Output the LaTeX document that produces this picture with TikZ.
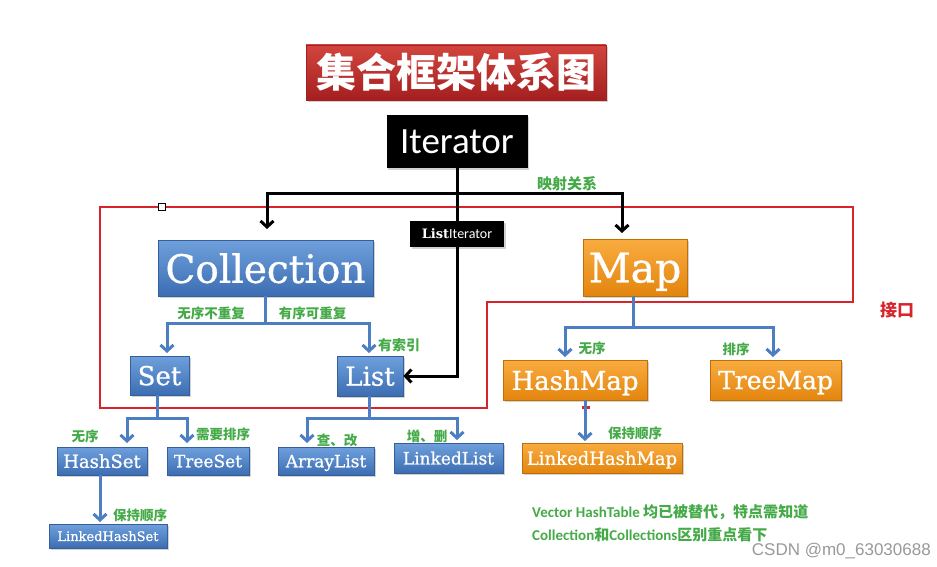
\documentclass[tikz,border=0pt]{standalone}
\usepackage{fontspec}
\setmainfont{DejaVu Serif}
\newfontfamily\boxfont[FakeBold=0.9]{DejaVu Serif}
\newfontfamily\cjk{Noto Sans CJK SC}
\newfontfamily\carl{Carlito}
\newfontfamily\lsans{Liberation Sans}
\usetikzlibrary{arrows.meta,shadows}
\definecolor{bT}{HTML}{6FA0DC}
\definecolor{bB}{HTML}{3C6DB2}
\definecolor{bD}{HTML}{345F9A}
\definecolor{oT}{HTML}{F9AC40}
\definecolor{oB}{HTML}{E3850E}
\definecolor{oD}{HTML}{C06F08}
\definecolor{rT}{HTML}{D2453E}
\definecolor{rB}{HTML}{A41F1F}
\definecolor{conblue}{HTML}{4C7EC3}
\definecolor{lblgreen}{HTML}{45AA48}
\definecolor{frame}{HTML}{D8232A}
\tikzset{
  shad/.style={drop shadow={opacity=0.35,shadow xshift=1.5pt,shadow yshift=-2pt}},
  bluebox/.style={shad,draw=bD,line width=0.8pt,top color=bT,bottom color=bB,text=white,inner sep=0pt,text depth=0pt},
  orangebox/.style={shad,draw=oD,line width=0.8pt,top color=oT,bottom color=oB,text=white,inner sep=0pt,text depth=0pt},
  blackbox/.style={shad,fill=black,text=white,inner sep=0pt},
  redbox/.style={shad,draw=rB,line width=0.8pt,top color=rT,bottom color=rB,text=white,inner sep=0pt},
  fs/.style={font=\boxfont\fontsize{#1}{#1}\selectfont},
  lbl/.style={text=lblgreen,font=\cjk\bfseries\fontsize{#1}{#1}\selectfont,inner sep=0pt},
  bl/.style={draw=conblue,line width=3pt},
  blarrow/.style={bl,-{Straight Barb[length=6pt,width=13pt]}},
  blk/.style={draw=black,line width=3pt},
  blkarrow/.style={blk,-{Straight Barb[length=6pt,width=13pt]}},
}
\begin{document}
\begin{tikzpicture}[x=1pt,y=-1pt]
\fill[white] (0,0) rectangle (937,567);
\useasboundingbox (0,0) rectangle (937,567);

% red interface frame
\draw[frame,line width=2.5pt] (100,207) -- (853,207) -- (853,302) -- (487,302) -- (487,408) -- (100,408) -- cycle;
\draw[black,fill=white,line width=0.8pt] (158.5,203.5) rectangle (165.5,210.5);
\draw[frame,line width=3pt] (582,407) -- (590,407);

% nodes
\node[redbox,minimum width=300pt,minimum height=55pt,font=\cjk\bfseries\fontsize{40}{40}\selectfont] (title) at (456,72.5) {集合框架体系图};
\node[blackbox,minimum width=141pt,minimum height=53pt,font=\carl\fontsize{37}{37}\selectfont] (iter) at (457,141.5) {Iterator};
\node[blackbox,minimum width=94pt,minimum height=26pt,font=\bfseries\fontsize{13}{13}\selectfont] (listit) at (457,234) {List{\carl\mdseries\fontsize{14}{14}\selectfont Iterator}};

\node[bluebox,minimum width=215pt,minimum height=56pt,fs=39] (coll) at (265.5,268) {Collection};
\node[orangebox,minimum width=104pt,minimum height=57pt,fs=41] (map) at (635,267.5) {Map};

\node[bluebox,minimum width=59pt,minimum height=39pt,fs=26] (set) at (159.5,375.5) {Set};
\node[bluebox,minimum width=66pt,minimum height=40pt,fs=26] (list) at (370,376) {List};

\node[orangebox,minimum width=144pt,minimum height=40pt,fs=26] (hashmap) at (575,380) {HashMap};
\node[orangebox,minimum width=131pt,minimum height=40pt,fs=25] (treemap) at (775.5,380) {TreeMap};
\node[orangebox,minimum width=160pt,minimum height=30pt,fs=18] (lhm) at (602,458) {LinkedHashMap};

\node[bluebox,minimum width=90pt,minimum height=28pt,fs=18] (hashset) at (102,461) {HashSet};
\node[bluebox,minimum width=82pt,minimum height=28pt,fs=17] (treeset) at (208,461) {TreeSet};
\node[bluebox,minimum width=96pt,minimum height=28pt,fs=17] (arraylist) at (326,461) {ArrayList};
\node[bluebox,minimum width=109pt,minimum height=30pt,fs=17] (linkedlist) at (448.5,458) {LinkedList};
\node[bluebox,minimum width=118pt,minimum height=24pt,fs=13] (lhs) at (108,536) {LinkedHashSet};

% black connectors
\coordinate (j1) at (457,193);
\coordinate (ca) at (267,229);
\coordinate (ma) at (622,233);
\draw[blk] (iter.south) -- (listit.north);
\draw[blkarrow] (j1) -| (ca);
\draw[blkarrow] (j1) -| (ma);
\draw[blkarrow] (listit.south) |- (list.east);

% blue connectors
\coordinate (cb) at (265.5,323);
\coordinate (sa) at (167,353);
\coordinate (la) at (369,353);
\draw[bl] (coll.south) -- (cb);
\draw[blarrow] (cb) -| (sa);
\draw[blarrow] (cb) -| (la);

\coordinate (mb) at (633,327);
\coordinate (hma) at (565,357);
\coordinate (tma) at (773,357);
\draw[bl] (map.south -| mb) -- (mb);
\draw[blarrow] (mb) -| (hma);
\draw[blarrow] (mb) -| (tma);

\coordinate (lhma) at (585,441);
\draw[blarrow] (hashmap.south -| lhma) -- (lhma);

\coordinate (sb) at (157,418);
\coordinate (hsa) at (127,443);
\coordinate (tsa) at (187,443);
\draw[bl] (set.south -| sb) -- (sb);
\draw[blarrow] (sb) -| (hsa);
\draw[blarrow] (sb) -| (tsa);

\coordinate (lhsa) at (100,522);
\draw[blarrow] (hashset.south -| lhsa) -- (lhsa);

\coordinate (lb) at (369,418);
\coordinate (ala) at (307,443);
\coordinate (lla) at (457,440);
\draw[bl] (list.south -| lb) -- (lb);
\draw[blarrow] (lb) -| (ala);
\draw[blarrow] (lb) -| (lla);

% labels
\node[lbl=15] (l1) at (567,184) {映射关系};
\node[text=frame,font=\cjk\bfseries\fontsize{17}{17}\selectfont,inner sep=0pt] (l2) at (897,310) {接口};
\node[lbl=13.5] (l3) at (211,313) {无序不重复};
\node[lbl=13.5] (l4) at (312.5,313) {有序可重复};
\node[lbl=14] (l5) at (399,345) {有索引};
\node[lbl=13.5] (l6) at (592,348) {无序};
\node[lbl=13.5] (l7) at (736,349) {排序};
\node[lbl=13.5] (l8) at (635,433) {保持顺序};
\node[lbl=13.5] (l9) at (85,436) {无序};
\node[lbl=13.5] (l10) at (223,434) {需要排序};
\node[lbl=13.5] (l11) at (337,440) {查、改};
\node[lbl=13.5] (l12) at (427,436) {增、删};
\node[lbl=13.5] (l13) at (140,515) {保持顺序};

\node[anchor=west,text=lblgreen,inner sep=0pt,font=\bfseries\fontsize{15}{15}\selectfont] (n1) at (532,512) {{\carl Vector HashTable }{\cjk 均已被替代，特点需知道}};
\node[anchor=west,text=lblgreen,inner sep=0pt,font=\bfseries\fontsize{15}{15}\selectfont] (n2) at (532,535) {{\carl Collection}{\cjk 和}{\carl Collections}{\cjk 区别重点看下}};

\node[anchor=east,text=black!40,inner sep=0pt,font=\lsans\fontsize{17}{17}\selectfont] (wm) at (931,551) {CSDN @m0\_63030688};
\end{tikzpicture}
\end{document}
